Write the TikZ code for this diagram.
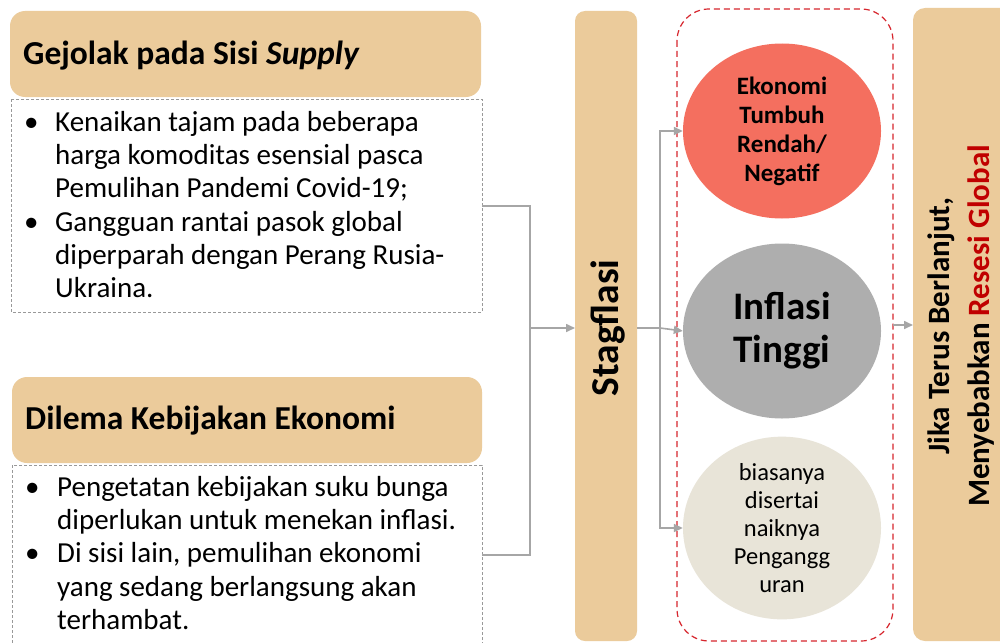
\documentclass[tikz,border=0pt]{standalone}
\usepackage{fontspec}
\setmainfont{Carlito}
\usetikzlibrary{arrows.meta,shapes.geometric}
\definecolor{tan}{HTML}{EBCB9B}
\definecolor{coral}{HTML}{F46F5F}
\definecolor{cgray}{HTML}{AEAEAE}
\definecolor{beige}{HTML}{E8E4D8}
\definecolor{dred}{HTML}{D7262E}
\definecolor{lgray}{HTML}{A6A6A6}
\definecolor{rtext}{HTML}{C00000}
\tikzset{
  hdr/.style={fill=tan, draw=none, rounded corners=15pt},
  bodybox/.style={draw=gray!80, dashed, dash pattern=on 3pt off 2pt, line width=0.8pt},
  tall/.style={fill=tan, draw=none, rounded corners=10pt},
  conn/.style={draw=lgray, line width=1.6pt},
  arr/.style={conn, -{Triangle[length=9pt,width=8pt]}},
  circ/.style={ellipse, draw=none, minimum width=198pt, minimum height=175pt, align=center, inner sep=0pt},
  hdrtext/.style={anchor=west, inner sep=0pt, font=\bfseries\fontsize{33.5}{38}\selectfont},
  bodytext/.style={anchor=north west, inner sep=0pt, font=\fontsize{29}{33.2}\selectfont},
}
\begin{document}
\begin{tikzpicture}[x=1pt,y=-1pt]
\useasboundingbox (0,0) rectangle (1000,642);
\clip (0,0) rectangle (1000,642);
\fill[white] (0,0) rectangle (1000,642);
% left boxes
\path[hdr] (10,11) rectangle (481,97);
\node[hdrtext] (h1) at (23,56) {Gejolak pada Sisi \textit{Supply}};
\draw[bodybox] (11,99) rectangle (482,312);
\coordinate (b1) at (482,206);
\node[bodytext] (t1) at (24,108) {%
\begin{tabular}{@{}p{31pt}@{}l@{}}
\textbullet & Kenaikan tajam pada beberapa\\
 & harga komoditas esensial pasca\\
 & Pemulihan Pandemi Covid-19;\\
\textbullet & Gangguan rantai pasok global\\
 & diperparah dengan Perang Rusia-\\
 & Ukraina.
\end{tabular}};
\path[hdr] (12,377) rectangle (482,463);
\node[hdrtext] (h2) at (25,421) {Dilema Kebijakan Ekonomi};
\draw[bodybox] (12,465) rectangle (482,680);
\coordinate (b2) at (482,555);
\node[bodytext] (t2) at (25,473) {%
\begin{tabular}{@{}p{32pt}@{}l@{}}
\textbullet & Pengetatan kebijakan suku bunga\\
 & diperlukan untuk menekan inflasi.\\
\textbullet & Di sisi lain, pemulihan ekonomi\\
 & yang sedang berlangsung akan\\
 & terhambat.
\end{tabular}};
% Stagflasi
\path[tall] (575,11) rectangle (637,641);
\node[rotate=90, inner sep=0pt, font=\bfseries\fontsize{39.5}{44}\selectfont] (stag) at (608,328) {Stagflasi};
\coordinate (stagL) at (575,328);
\coordinate (stagR) at (637,328);
% dashed red group
\draw[dred, dashed, dash pattern=on 6pt off 4pt, line width=1.2pt, rounded corners=32pt] (677,9) rectangle (893,641);
\coordinate (grpR) at (893,325);
% circles
\node[circ, fill=coral, font=\bfseries\fontsize{25}{29}\selectfont] (c1) at (782,131) {Ekonomi\\Tumbuh\\Rendah/\\Negatif};
\node[circ, fill=cgray, font=\bfseries\fontsize{39}{43}\selectfont] (c2) at (782,331) {Inflasi\\Tinggi};
\node[circ, fill=beige, font=\fontsize{24.5}{28}\selectfont] (c3) at (782,528) {biasanya\\disertai\\naiknya\\Pengangg\\uran};
% right box
\path[tall, rounded corners=12pt] (913,8) rectangle (1012,641);
\node[rotate=90, align=center, inner sep=0pt, font=\bfseries\fontsize{31}{40}\selectfont] (res) at (961,326) {Jika Terus Berlanjut,\\Menyebabkan \textcolor{rtext}{Resesi Global}};
\coordinate (resL) at (913,325);
% connectors
\coordinate (j) at (530,328);
\draw[conn] (b1) -| (j);
\draw[conn] (b2) -| (j);
\draw[arr] (j) -- (stagL);
\coordinate (k) at (660,328);
\draw[conn] (stagR) -- (k);
\draw[arr] (k) |- (c1.west);
\draw[arr] (k) -- (c2.west);
\draw[arr] (k) |- (c3.west);
\draw[arr] (grpR) -- (resL);
\end{tikzpicture}
\end{document}
